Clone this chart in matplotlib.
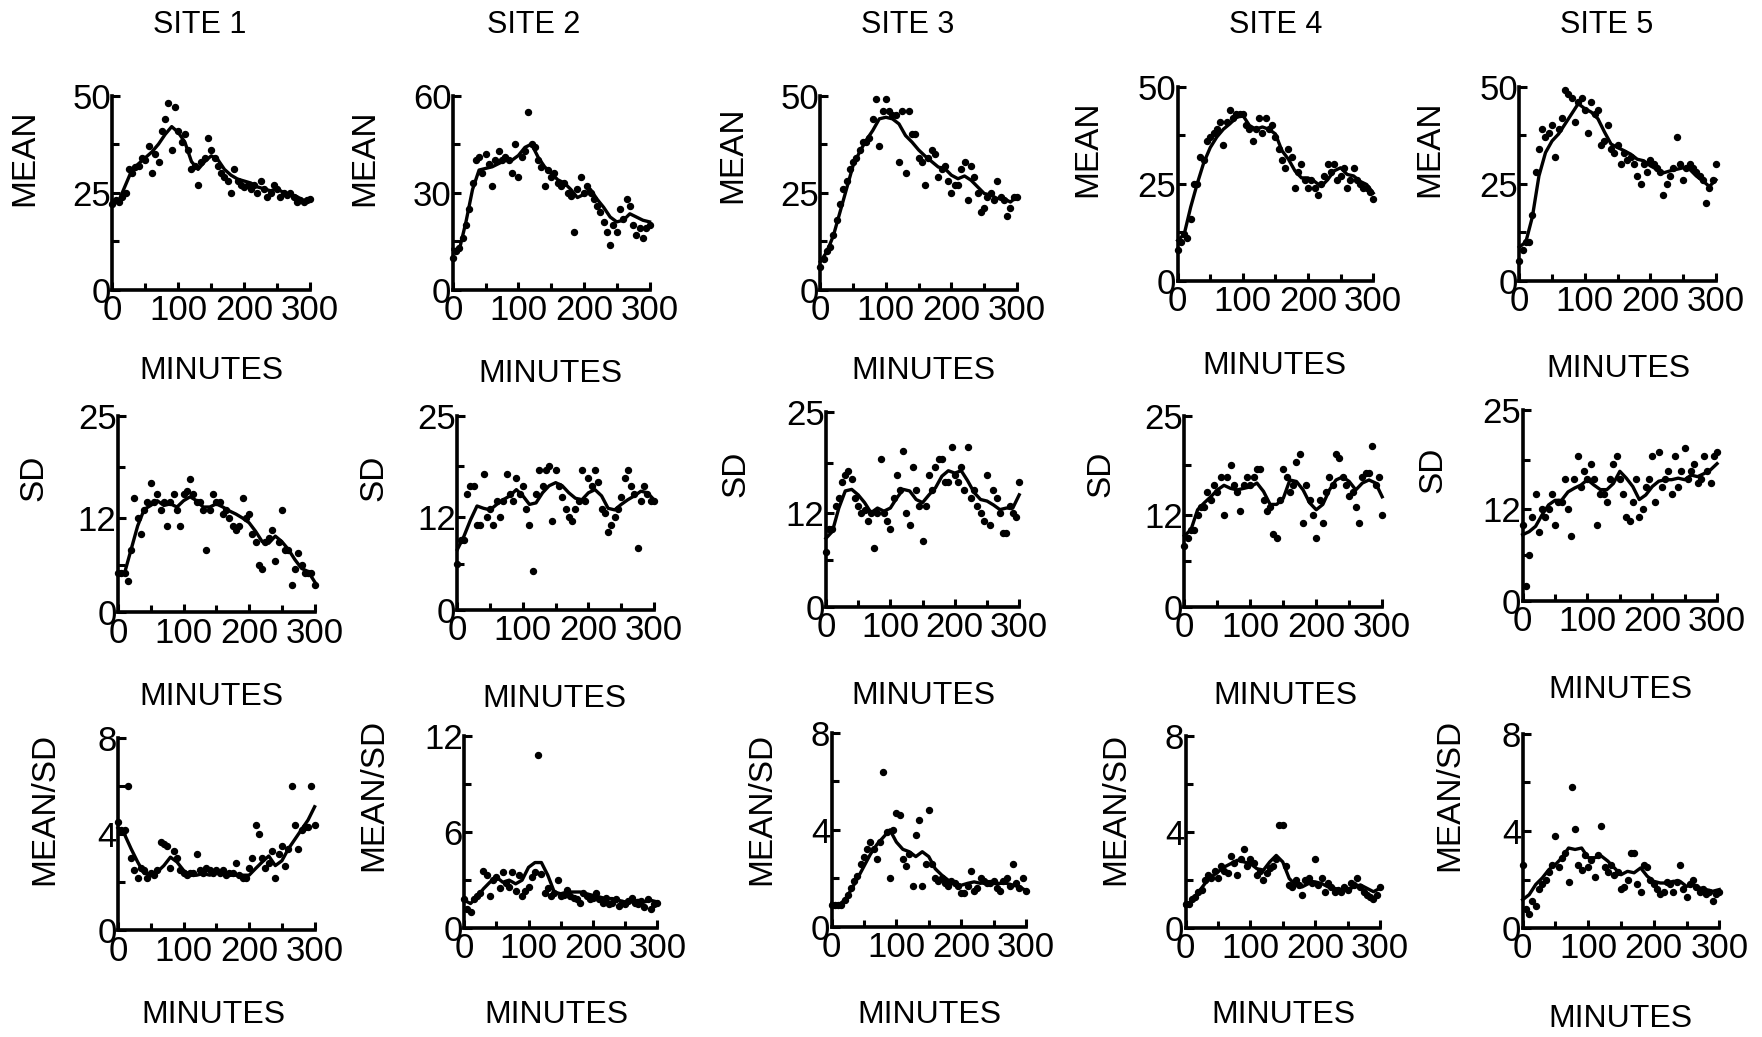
import matplotlib
matplotlib.use("Agg")
import matplotlib.pyplot as plt
from matplotlib.ticker import FixedLocator

plt.rcParams['font.family'] = ['Liberation Sans', 'DejaVu Sans']

# ---------------- data ----------------
minutes_dots = list(range(0, 301, 5))
minutes_line = list(range(0, 301, 10))
site_titles = ["SITE 1", "SITE 2", "SITE 3", "SITE 4", "SITE 5"]
row_labels = ["MEAN", "SD", "MEAN/SD"]
x_ticks = [0, 100, 200, 300]
mean_ticks = [[0, 25, 50], [0, 30, 60], [0, 25, 50], [0, 25, 50], [0, 25, 50]]
sd_ticks = [[0, 12, 25]] * 5
ratio_ticks = [[0, 4, 8], [0, 6, 12], [0, 4, 8], [0, 4, 8], [0, 4, 8]]

# MEAN
s1_mean_dots = [22, 23, 22.5, 24, 25, 31, 30, 31.5, 32, 34,
                33.5, 37, 30, 35, 33, 41, 44, 48, 36, 47,
                41, 38, 40, 36, 31, 32, 27, 33, 34, 39,
                36, 34, 32, 30, 29, 28, 25, 31, 28, 27,
                26.5, 27, 26, 27, 25, 28, 26, 24, 25, 27,
                26, 24, 25, 24.5, 25, 24, 22.5, 23, 22.5, 23,
                23.5]
s1_mean_line = [23, 23, 27, 31, 32.5, 34, 35.5, 37.5, 40, 42,
                40.5, 38, 33, 31, 33, 34.5, 33.5, 31, 29.5, 28.5,
                28, 27.5, 26.5, 26, 25.5, 26, 25, 24.5, 24, 23,
                23.5]
s2_mean_dots = [10, 12, 13, 16, 20, 25, 33, 40, 41, 36,
                42, 39, 32, 40, 43, 40, 41, 40, 36, 45,
                35, 41, 43, 55, 45, 44, 40, 38, 32, 37,
                35, 36, 33, 32, 33, 30, 29, 18, 31, 35,
                30, 32, 30, 28, 26, 24, 21, 18, 14, 20,
                18, 25, 22, 28, 26, 20, 17, 19, 16, 19,
                20]
s2_mean_line = [12.5, 12.5, 21, 31, 37, 37.5, 38, 39, 40, 40,
                41.5, 44, 45, 41, 38, 36, 34, 33, 31, 28.5,
                29.5, 31, 28, 25.5, 22.5, 21, 21.5, 23.5, 22.5, 21.5,
                21]
s3_mean_dots = [6, 8, 10, 11, 14, 18, 22, 26, 28, 31,
                33, 34, 36, 38, 38, 39, 44, 49, 37, 46,
                49, 46, 45, 45, 33, 46, 30, 46, 40, 40,
                34, 33, 27, 34, 36, 35, 29, 31, 32, 28,
                25, 27, 27, 31, 33, 23, 32, 29, 25, 20,
                21, 24, 25, 23, 28, 24, 23, 19, 21, 24,
                24]
s3_mean_line = [7.3, 9.8, 14, 20, 26, 32, 35.5, 38.5, 41, 44,
                44.4, 44, 42.7, 39.7, 38, 36, 34.4, 33, 31.6, 31.2,
                29.5, 28.6, 29.3, 28.2, 26.5, 24.8, 24.4, 23.5, 23.5, 22.6,
                24]
s4_mean_dots = [8, 10, 12, 11, 16, 25, 25, 32, 31, 36,
                37, 38, 39, 41, 35, 41, 44, 42, 43, 43,
                43, 40, 39, 36, 39, 42, 38, 42, 39, 40,
                37, 34, 31, 29, 34, 32, 24, 28, 30, 26,
                24, 26, 24, 22, 25, 27, 30, 28, 30, 26,
                27, 29, 24, 26, 29, 26, 25, 24, 24, 23,
                21]
s4_mean_line = [10.4, 12, 19, 25, 30.4, 34.3, 37, 39, 40.4, 42,
                42.6, 40, 39, 39.6, 39, 37.8, 33.5, 31.3, 28.3, 26.5,
                26.5, 25.6, 24.3, 26, 28.3, 29.1, 27.4, 27, 25.6, 24.8,
                22.6]
s5_mean_dots = [5, 8, 10, 10, 17, 28, 34, 39, 37, 38,
                40, 32, 39, 42, 49, 48, 47, 41, 46, 47,
                44, 38, 46, 43, 44, 35, 36, 40, 34, 33,
                35, 30, 33, 31, 32, 30, 27, 25, 30, 28,
                31, 30, 29, 28, 22, 25, 27, 29, 37, 30,
                26, 29, 30, 29, 28, 27, 26, 20, 24, 26,
                30]
s5_mean_line = [8.7, 10, 16.5, 27, 33, 36, 37.8, 40.4, 43, 45.6,
                44.3, 43.4, 41.7, 38.3, 35.2, 34.3, 33.5, 32.6, 31.3, 30.9,
                29.6, 28.7, 27.8, 28.3, 28.7, 29.1, 28.7, 27, 25.7, 24.3,
                26]

# SD
s1_sd_dots = [5, 5, 5, 4, 8, 14.5, 12, 10, 13, 14,
              16.5, 14, 15, 13, 14, 11, 14, 15, 13, 11,
              15, 15.5, 17, 15, 14, 14, 13, 8, 13, 15,
              14, 14, 12.5, 13, 12, 11, 10.5, 11, 14.5, 12,
              12.5, 10, 9, 6, 5.5, 9, 9.5, 10.5, 6.5, 9,
              13, 8, 8, 3.5, 5.5, 7.5, 6, 5, 5, 5,
              3.5]
s1_sd_line = [5, 5, 8, 11, 13.1, 13.6, 14.2, 13.6, 13.8, 13.4,
              14.2, 14.7, 14.2, 13.4, 13.4, 13.8, 13.4, 12.9, 12.5, 12,
              11.4, 10.3, 9, 8.8, 9.7, 9, 8, 6.7, 5.6, 5.2,
              3.9]
s2_sd_dots = [6, 9, 9, 15, 16, 16, 11, 11, 17.5, 12,
              13, 11, 14, 12, 14, 17.5, 15, 14, 17, 15,
              16, 13, 11, 5, 15, 18, 16, 18, 18.5, 11.5,
              18, 16, 14.5, 13, 12, 11.5, 13, 14, 18, 14,
              17, 16, 18, 16.5, 13, 12.5, 10, 11, 12, 13,
              14.5, 17, 18, 16, 15, 8, 14, 16, 15, 14,
              14]
s2_sd_line = [7.8, 9.5, 11.6, 13.4, 13.1, 12.9, 13.6, 14.2, 14.7, 15.5,
              14.7, 13.6, 13.8, 15.1, 16, 16.4, 16, 15.1, 14.4, 14.2,
              15.1, 15.5, 14.7, 13.1, 12.9, 13.6, 14.2, 14.7, 15.3, 15.1,
              14.2]
s3_sd_dots = [7, 10, 10, 13, 14, 16, 17, 17.5, 16.5, 14,
              13, 12, 12.5, 11, 12, 7.5, 12, 19, 12, 11,
              10, 14, 17, 15, 20, 12, 10.5, 18, 15, 13,
              8.5, 13, 17, 15, 18, 19, 19, 16, 16, 20.5,
              17, 16, 18, 15, 20.5, 14, 15, 13, 12, 11,
              17, 10.5, 15, 14, 12, 9.5, 9.5, 13, 12, 11.5,
              16]
s3_sd_line = [8.8, 9.7, 12.7, 14.9, 15.1, 14.4, 13.4, 12.1, 12.7, 12.3,
              12.7, 14, 15.1, 14.9, 13.8, 13.4, 14.4, 15.3, 16.8, 17.5,
              17.2, 17.5, 16.2, 14.7, 13.8, 13.6, 13.1, 12.5, 12.7, 12.7,
              14.4]
s4_sd_dots = [8, 9, 10, 10, 12, 13, 13, 15, 14, 16,
              15, 17, 12, 17, 18.5, 16, 15, 12.5, 16, 17,
              16, 17, 18, 18, 14, 12.5, 13, 9.5, 9, 14,
              18, 17, 15, 16, 19, 20, 11, 16, 14, 12,
              9, 14, 11, 15, 17, 16, 20, 19.5, 17, 16,
              14.5, 15, 13, 11, 17, 17.5, 17.5, 21, 16, 17,
              12]
s4_sd_line = [9.3, 10.1, 12.7, 13.6, 14.4, 15.3, 15.9, 15.5, 15.3, 15.5,
              15.7, 16.2, 15.1, 13.4, 13.4, 14.2, 16.6, 16.4, 15.3, 13.6,
              12.7, 13.4, 15.3, 16.6, 17, 16.4, 15.3, 16.2, 16.6, 16.2,
              14.4]
s5_sd_dots = [10, 2, 6, 11, 14, 9, 12, 11, 12, 14,
              10, 13, 13, 16, 12, 8.5, 16, 19, 15, 17,
              16, 18, 16, 10, 14, 14, 13, 16, 18, 19,
              16, 14, 11, 10.5, 13, 16, 11, 12, 15, 16,
              19, 13, 19.5, 15, 16, 17, 14, 19, 15, 17,
              20, 16, 17, 18, 15.5, 16, 19, 17, 15.5, 19,
              19.5]
s5_sd_line = [8.7, 9.1, 9.8, 11.3, 12.6, 13.2, 13.2, 14.3, 14.8, 15.2,
              15.9, 15.2, 14.6, 14.6, 15.4, 17, 16.1, 15, 13.3, 13.9,
              15, 15.7, 15.9, 15.9, 16.1, 15.9, 16.5, 16.3, 16.7, 17.2,
              18]

# MEAN/SD
s1_ratio_dots = [4.5, 4.2, 4.2, 6.0, 3.0, 2.5, 2.2, 2.6, 2.5, 2.2,
                 2.4, 2.3, 2.5, 3.7, 3.6, 3.5, 2.6, 3.3, 3.0, 2.5,
                 2.4, 2.3, 2.4, 2.4, 3.2, 2.5, 2.4, 2.6, 2.5, 2.4,
                 2.5, 2.4, 2.5, 2.3, 2.4, 2.4, 2.8, 2.3, 2.2, 2.2,
                 2.6, 3.0, 4.4, 4.0, 3.0, 2.6, 2.8, 3.3, 2.2, 3.2,
                 3.5, 2.7, 3.4, 6.0, 4.4, 3.4, 4.2, 4.3, 4.3, 6.0,
                 4.4]
s1_ratio_line = [4.27, 4.0, 3.4, 2.85, 2.37, 2.37, 2.44, 2.7, 3.05, 2.85,
                 2.5, 2.3, 2.3, 2.37, 2.3, 2.44, 2.37, 2.3, 2.3, 2.3,
                 2.3, 2.58, 2.85, 3.1, 2.7, 2.9, 3.4, 3.8, 4.2, 4.6,
                 5.15]
s2_ratio_dots = [1.8, 1.2, 1.0, 1.8, 2.0, 2.2, 3.6, 3.3, 2.0, 3.0,
                 3.2, 2.5, 3.5, 2.8, 2.6, 3.5, 2.3, 3.3, 2.0, 2.3,
                 2.6, 3.2, 3.5, 10.8, 3.4, 2.2, 2.5, 2.0, 2.2, 3.0,
                 2.0, 2.1, 2.4, 2.0, 1.9, 1.8, 1.6, 2.2, 2.0, 1.8,
                 1.9, 2.2, 1.8, 1.6, 1.9, 1.5, 1.6, 1.8, 1.4, 1.6,
                 1.5, 1.7, 1.9, 1.6, 1.5, 1.7, 1.3, 1.8, 1.2, 1.5,
                 1.6]
s2_ratio_line = [1.75, 1.54, 1.95, 2.46, 2.87, 3.2, 2.87, 3.0, 2.77, 3.0,
                 3.8, 4.1, 4.1, 3.3, 2.26, 2.15, 2.26, 2.26, 2.26, 2.15,
                 2.05, 1.95, 1.85, 1.85, 1.74, 1.64, 1.64, 1.74, 1.64, 1.74,
                 1.64]
s3_ratio_dots = [0.9, 0.9, 0.9, 0.9, 1.1, 1.3, 1.6, 1.9, 2.1, 2.6,
                 2.9, 3.2, 3.5, 3.2, 2.8, 3.5, 6.4, 3.9, 2.0, 4.0,
                 4.7, 4.6, 2.8, 2.5, 3.0, 1.7, 3.8, 4.4, 1.7, 2.6,
                 4.8, 2.6, 2.0, 1.9, 2.0, 1.8, 1.7, 1.9, 1.8, 1.7,
                 1.4, 1.4, 1.7, 2.3, 1.5, 1.6, 2.0, 1.9, 1.8, 1.8,
                 1.9, 1.6, 1.5, 1.9, 2.0, 1.7, 2.6, 1.8, 1.6, 2.0,
                 1.5]
s3_ratio_line = [0.97, 0.9, 1.1, 1.52, 2.0, 2.5, 3.0, 3.4, 3.7, 4.0,
                 3.5, 3.2, 3.1, 2.9, 3.1, 2.9, 2.4, 2.14, 1.93, 1.8,
                 1.72, 1.8, 1.86, 1.8, 1.86, 1.8, 1.8, 1.8, 1.72, 1.66,
                 1.5]
s4_ratio_dots = [1.0, 1.0, 1.2, 1.3, 1.5, 1.6, 2.0, 2.2, 2.1, 2.4,
                 2.1, 2.6, 2.4, 2.3, 3.0, 2.7, 2.2, 2.9, 3.3, 2.6,
                 2.9, 2.7, 2.2, 2.4, 2.0, 2.3, 2.5, 2.6, 2.9, 4.3,
                 4.3, 2.6, 1.8, 1.7, 2.0, 1.8, 1.4, 2.0, 2.1, 1.9,
                 2.9, 1.8, 2.1, 1.5, 1.9, 1.7, 1.5, 1.6, 1.5, 1.7,
                 1.6, 1.9, 1.8, 2.1, 1.7, 1.5, 1.4, 1.3, 1.2, 1.4,
                 1.7]
s4_ratio_line = [0.9, 1.17, 1.5, 1.86, 2.14, 2.34, 2.55, 2.69, 2.83, 2.76,
                 2.69, 2.48, 2.41, 2.76, 3.03, 2.76, 2.07, 1.8, 1.72, 1.86,
                 1.93, 1.86, 1.72, 1.66, 1.59, 1.59, 1.72, 1.8, 1.66, 1.52,
                 1.66]
s5_ratio_dots = [2.6, 0.8, 0.6, 1.1, 0.9, 1.6, 1.8, 2.0, 2.3, 2.6,
                 3.8, 2.5, 2.9, 3.1, 1.9, 5.8, 4.1, 2.6, 2.4, 3.0,
                 2.5, 2.8, 2.1, 3.0, 4.2, 2.5, 2.3, 2.6, 2.2, 2.3,
                 1.6, 1.7, 2.0, 3.1, 3.1, 1.8, 1.5, 2.6, 2.5, 2.0,
                 1.8, 1.6, 1.4, 1.5, 1.9, 1.8, 1.5, 1.9, 2.6, 1.6,
                 1.3, 1.8, 2.0, 1.7, 1.5, 1.6, 1.4, 1.5, 1.1, 1.4,
                 1.5]
s5_ratio_line = [1.17, 1.38, 1.8, 2.07, 2.41, 2.62, 2.9, 3.3, 3.24, 3.3,
                 2.9, 2.9, 2.97, 2.76, 2.48, 2.2, 2.34, 2.28, 2.48, 2.14,
                 1.93, 1.86, 1.86, 1.93, 1.93, 1.72, 1.8, 1.66, 1.59, 1.52,
                 1.59]

dots = [
    [s1_mean_dots, s2_mean_dots, s3_mean_dots, s4_mean_dots, s5_mean_dots],
    [s1_sd_dots, s2_sd_dots, s3_sd_dots, s4_sd_dots, s5_sd_dots],
    [s1_ratio_dots, s2_ratio_dots, s3_ratio_dots, s4_ratio_dots, s5_ratio_dots],
]
lines = [
    [s1_mean_line, s2_mean_line, s3_mean_line, s4_mean_line, s5_mean_line],
    [s1_sd_line, s2_sd_line, s3_sd_line, s4_sd_line, s5_sd_line],
    [s1_ratio_line, s2_ratio_line, s3_ratio_line, s4_ratio_line, s5_ratio_line],
]
yticks = [mean_ticks, sd_ticks, ratio_ticks]

# ---------------- layout (reference pixels at 1568 wide) ----------------
# (x of 0, x of 300, y of 0, y of max)
boxes = [
    [(100, 276, 258, 85), (403, 578, 258, 85), (730, 905, 258, 85), (1048, 1222, 250, 77), (1352, 1527, 250, 77)],
    [(105, 280, 545, 370), (407, 582, 543, 370), (735, 907, 540, 367), (1054, 1230, 540, 370), (1355, 1528, 535, 365)],
    [(105, 280, 828, 657), (413, 585, 826, 655), (740, 913, 825, 652), (1055, 1228, 826, 655), (1355, 1530, 826, 653)],
]
title_pos = [(178, 22), (475, 22), (808, 22), (1135, 22), (1430, 22)]
xlabel_pos = [
    [(188, 330), (490, 333), (822, 330), (1134, 326), (1440, 328)],
    [(188, 620), (493, 622), (822, 619), (1144, 619), (1442, 614)],
    [(190, 903), (495, 903), (827, 903), (1142, 903), (1442, 907)],
]
ylabel_pos = [
    [(22, 140), (325, 140), (652, 138), (968, 132), (1272, 132)],
    [(30, 425), (333, 425), (655, 422), (980, 422), (1275, 418)],
    [(40, 720), (333, 707), (678, 720), (993, 720), (1290, 707)],
]

W, H = 1762, 1037
S = W / 1568.0
fig = plt.figure(figsize=(W / 100, H / 100), dpi=100)
fig.patch.set_facecolor("white")


def fx(x):
    return x * S / W


def fy(y):
    return 1 - y * S / H


for r in range(3):
    for c in range(5):
        x0, x1, y0, y1 = boxes[r][c]
        ax = fig.add_axes([fx(x0), fy(y0), fx(x1) - fx(x0), fy(y1) - fy(y0)])
        ax.plot(minutes_line, lines[r][c], color="black", lw=2.4, clip_on=False, zorder=3)
        ax.plot(minutes_dots, dots[r][c], "o", color="black", ms=4.3, clip_on=False, zorder=4)
        ticks = yticks[r][c]
        ax.set_xlim(0, 300)
        ax.set_ylim(ticks[0], ticks[-1])
        ax.xaxis.set_major_locator(FixedLocator(x_ticks))
        ax.xaxis.set_minor_locator(FixedLocator([50, 150, 250]))
        ax.yaxis.set_major_locator(FixedLocator(ticks))
        mid = [(ticks[0] + ticks[1]) / 2.0, (ticks[1] + ticks[2]) / 2.0]
        ax.yaxis.set_minor_locator(FixedLocator(mid))
        for side in ("top", "right"):
            ax.spines[side].set_visible(False)
        for side in ("left", "bottom"):
            ax.spines[side].set_linewidth(2.6)
            ax.spines[side].set_capstyle("projecting")
        ax.tick_params(which="both", direction="in", width=2.2, color="black")
        ax.tick_params(which="major", length=6)
        ax.tick_params(which="minor", length=5)
        ax.tick_params(axis="x", which="major", labelsize=25, pad=3)
        ax.tick_params(axis="y", which="major", labelsize=25, pad=1)
        ax.set_facecolor("none")

        ax.set_xlabel("MINUTES", fontsize=23, va="center", ha="center")
        xl = xlabel_pos[r][c]
        ax.xaxis.set_label_coords(fx(xl[0]), fy(xl[1]), transform=fig.transFigure)
        ax.set_ylabel(row_labels[r], fontsize=24, va="center", ha="center")
        yl = ylabel_pos[r][c]
        ax.yaxis.set_label_coords(fx(yl[0]), fy(yl[1]), transform=fig.transFigure)

for c in range(5):
    tx, ty = title_pos[c]
    fig.text(fx(tx), fy(ty), site_titles[c], ha="center", va="center", fontsize=22)

fig.savefig("out.png", dpi=100, facecolor="white")
